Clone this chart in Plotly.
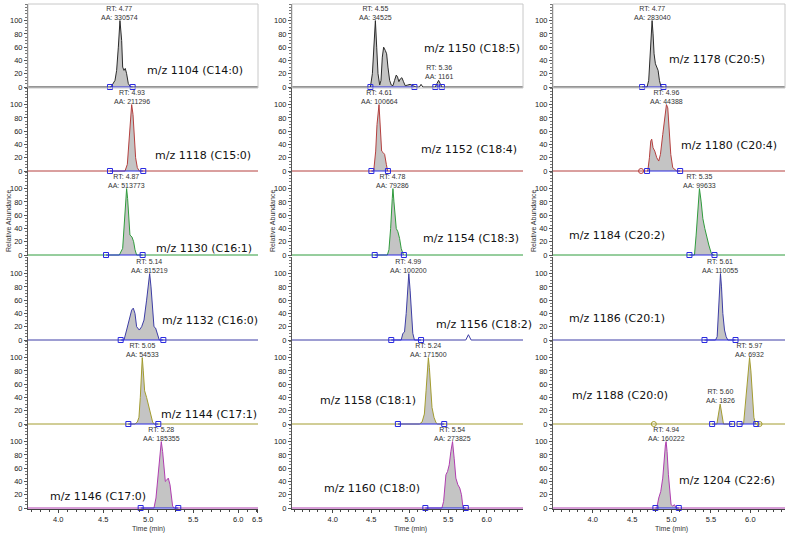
import plotly.graph_objects as go
from plotly.subplots import make_subplots

# ---------------- data (time in min, relative abundance in %) ----------------
T_1104 = [3.3, 4.585, 4.63, 4.648, 4.667, 4.685, 4.704, 4.715, 4.73, 4.744, 4.759, 4.778, 4.804, 6.6]
I_1104 = [0, 0, 10, 25, 60, 100, 70, 30, 25, 28, 20, 5, 0, 0]
W_1104 = [(4.574, 4.826)]

T_1118 = [3.3, 4.741, 4.767, 4.781, 4.796, 4.815, 4.83, 4.844, 4.859, 4.878, 4.9, 6.6]
I_1118 = [0, 0, 10, 40, 70, 100, 85, 50, 20, 5, 0, 0]
W_1118 = [(4.574, 4.944)]

T_1130 = [3.3, 4.678, 4.715, 4.737, 4.752, 4.759, 4.77, 4.781, 4.796, 4.819, 4.837, 4.852, 4.87, 6.6]
I_1130 = [0, 0, 10, 50, 90, 100, 85, 55, 30, 27, 20, 8, 0, 0]
W_1130 = [(4.53, 4.937)]

T_1132 = [3.3, 4.73, 4.759, 4.789, 4.815, 4.833, 4.852, 4.87, 4.9, 4.926, 4.952, 4.981, 5.004, 5.015, 5.03, 5.048, 5.063, 5.081, 5.1, 5.122, 6.6]
I_1132 = [0, 0, 15, 30, 45, 48, 40, 20, 15, 20, 30, 60, 95, 100, 80, 40, 20, 18, 10, 0, 0]
W_1132 = [(4.693, 5.167)]

T_1144 = [3.3, 4.852, 4.878, 4.896, 4.911, 4.926, 4.933, 4.944, 4.959, 4.981, 5.0, 5.026, 5.048, 5.063, 6.6]
I_1144 = [0, 0, 3, 10, 40, 90, 100, 80, 50, 40, 30, 15, 3, 0, 0]
W_1144 = [(4.778, 5.111)]

T_1146 = [3.3, 5.063, 5.085, 5.107, 5.13, 5.144, 5.159, 5.174, 5.189, 5.204, 5.222, 5.241, 5.256, 5.27, 5.285, 6.6]
I_1146 = [0, 0, 15, 50, 90, 100, 85, 55, 40, 42, 45, 35, 15, 3, 0, 0]
W_1146 = [(4.915, 5.333)]

T_1150 = [3.3, 4.488, 4.514, 4.531, 4.553, 4.57, 4.587, 4.609, 4.626, 4.643, 4.66, 4.682, 4.699, 4.716,
          4.738, 4.759, 4.781, 4.802, 4.824, 4.841, 4.858, 4.875, 4.897, 4.918, 4.94, 4.974, 5.004,
          5.039, 5.082, 5.125, 5.146, 5.168, 5.331, 5.352, 5.374, 5.395, 5.417, 6.6]
I_1150 = [0, 0, 20, 60, 100, 60, 20, 3, 10, 45, 60, 55, 50, 30,
          10, 3, 2, 10, 18, 15, 8, 12, 14, 8, 2, 3, 4,
          2, 0, 0, 4, 0, 0, 5, 10, 5, 0, 0]
W_1150 = [(4.488, 5.06), (5.331, 5.417)]

T_1152 = [3.3, 4.531, 4.557, 4.574, 4.6, 4.617, 4.634, 4.652, 4.673, 4.695, 4.712, 6.6]
I_1152 = [0, 0, 30, 70, 100, 70, 30, 28, 25, 10, 0, 0]
W_1152 = [(4.501, 4.716)]

T_1154 = [3.3, 4.708, 4.729, 4.751, 4.772, 4.781, 4.794, 4.807, 4.824, 4.845, 4.867, 4.888, 4.91, 4.931, 6.6]
I_1154 = [0, 0, 8, 40, 85, 100, 80, 55, 40, 35, 25, 10, 2, 0, 0]
W_1154 = [(4.544, 4.923)]

T_1156 = [3.3, 4.888, 4.91, 4.931, 4.953, 4.97, 4.987, 5.004, 5.022, 5.039, 5.06, 5.727, 5.761, 5.796, 6.6]
I_1156 = [0, 0, 10, 12, 40, 80, 100, 75, 35, 10, 0, 0, 8, 0, 0]
W_1156 = [(4.759, 5.146)]

T_1158 = [3.3, 5.125, 5.159, 5.189, 5.211, 5.228, 5.241, 5.254, 5.271, 5.288, 5.314, 5.34, 5.361, 6.6]
I_1158 = [0, 0, 3, 15, 50, 90, 100, 85, 50, 25, 10, 2, 0, 0]
W_1158 = [(4.845, 5.447)]

T_1160 = [3.3, 5.417, 5.439, 5.469, 5.49, 5.512, 5.533, 5.555, 5.576, 5.598, 5.624, 5.649, 5.671, 5.688, 5.705, 6.6]
I_1160 = [0, 0, 10, 50, 55, 65, 85, 100, 75, 45, 35, 30, 20, 3, 0, 0]
W_1160 = [(5.202, 5.727)]

T_1178 = [3.3, 4.689, 4.71, 4.727, 4.744, 4.753, 4.765, 4.778, 4.795, 4.812, 4.829, 4.846, 4.867, 6.6]
I_1178 = [0, 0, 10, 50, 90, 100, 80, 50, 35, 30, 25, 10, 0, 0]
W_1178 = [(4.626, 4.897)]

T_1180 = [3.3, 4.698, 4.719, 4.736, 4.748, 4.765, 4.787, 4.812, 4.837, 4.859, 4.888, 4.914, 4.935, 4.952, 4.969, 4.99, 5.015, 5.041, 5.066, 6.6]
I_1180 = [0, 0, 20, 45, 48, 35, 30, 20, 15, 25, 55, 80, 100, 95, 60, 25, 5, 2, 0, 0]
W_1180 = [(4.689, 5.109)]

T_1184 = [3.3, 5.291, 5.312, 5.333, 5.354, 5.376, 5.397, 5.422, 5.448, 5.473, 5.503, 5.524, 6.6]
I_1184 = [0, 0, 30, 75, 100, 80, 55, 40, 25, 15, 3, 0, 0]
W_1184 = [(5.227, 5.545)]

T_1186 = [3.3, 5.558, 5.579, 5.596, 5.609, 5.621, 5.634, 5.651, 5.672, 5.693, 5.714, 6.6]
I_1186 = [0, 0, 5, 40, 85, 100, 80, 40, 15, 5, 0, 0]
W_1186 = [(5.418, 5.812)]

T_1188 = [3.3, 5.575, 5.596, 5.617, 5.638, 5.659, 5.914, 5.939, 5.965, 5.99, 6.007, 6.024, 6.045, 6.066, 6.6]
I_1188 = [0, 0, 15, 30, 15, 0, 0, 30, 65, 100, 80, 40, 10, 0, 0]
W_1188 = [(5.515, 5.769), (5.863, 6.075)]

T_1204 = [3.3, 4.812, 4.837, 4.863, 4.888, 4.905, 4.922, 4.931, 4.943, 4.96, 4.977, 4.994, 5.015, 5.037, 5.058, 6.6]
I_1204 = [0, 0, 15, 25, 45, 75, 95, 100, 85, 50, 20, 5, 3, 5, 0, 0]
W_1204 = [(4.795, 5.092)]

# small unintegrated detections (time, min) shown as open circles
MINOR_1180 = [4.613]
MINOR_1188 = [4.775, 6.117]

# panel titles (row-major: row1 col1..3, row2 ...)
LABELS = ["m/z 1104 (C14:0)", "m/z 1150 (C18:5)", "m/z 1178 (C20:5)",
          "m/z 1118 (C15:0)", "m/z 1152 (C18:4)", "m/z 1180 (C20:4)",
          "m/z 1130 (C16:1)", "m/z 1154 (C18:3)", "m/z 1184 (C20:2)",
          "m/z 1132 (C16:0)", "m/z 1156 (C18:2)", "m/z 1186 (C20:1)",
          "m/z 1144 (C17:1)", "m/z 1158 (C18:1)", "m/z 1188 (C20:0)",
          "m/z 1146 (C17:0)", "m/z 1160 (C18:0)", "m/z 1204 (C22:6)"]

# retention time / area labels per integrated window
PEAK_RT = [["4.77"], ["4.55", "5.36"], ["4.77"],
           ["4.93"], ["4.61"], ["4.96"],
           ["4.87"], ["4.78"], ["5.35"],
           ["5.14"], ["4.99"], ["5.61"],
           ["5.05"], ["5.24"], ["5.60", "5.97"],
           ["5.28"], ["5.54"], ["4.94"]]
PEAK_AA = [["330574"], ["34525", "1161"], ["283040"],
           ["211296"], ["100664"], ["44388"],
           ["513773"], ["79286"], ["99633"],
           ["815219"], ["100200"], ["110055"],
           ["54533"], ["171500"], ["1826", "6932"],
           ["185355"], ["273825"], ["160222"]]

# axis ticks and titles
Y_TICKS = [0, 20, 40, 60, 80, 100]
X_TICKVALS_C1 = [4.0, 4.5, 5.0, 5.5, 6.0, 6.21]
X_TICKTEXT_C1 = ["4.0", "4.5", "5.0", "5.5", "6.0", "6.5"]
X_TICKVALS = [4.0, 4.5, 5.0, 5.5, 6.0]
X_TICKTEXT = ["4.0", "4.5", "5.0", "5.5", "6.0"]
Y_TITLE = "Relative Abundance"
X_TITLE = "Time (min)"

SERIES = [(T_1104, I_1104, W_1104), (T_1150, I_1150, W_1150), (T_1178, I_1178, W_1178),
          (T_1118, I_1118, W_1118), (T_1152, I_1152, W_1152), (T_1180, I_1180, W_1180),
          (T_1130, I_1130, W_1130), (T_1154, I_1154, W_1154), (T_1184, I_1184, W_1184),
          (T_1132, I_1132, W_1132), (T_1156, I_1156, W_1156), (T_1186, I_1186, W_1186),
          (T_1144, I_1144, W_1144), (T_1158, I_1158, W_1158), (T_1188, I_1188, W_1188),
          (T_1146, I_1146, W_1146), (T_1160, I_1160, W_1160), (T_1204, I_1204, W_1204)]
MINORS = {5: MINOR_1180, 14: MINOR_1188}

# ---------------- styling / layout ----------------
W, H = 790, 535
ROW_COLORS = ["#2b2b2b", "#b5403f", "#2f9c3c", "#3d3da6", "#a39c2e", "#b03db0"]
FILL = "rgba(190,190,190,0.9)"
INT_BLUE = "#2a2ae0"
COL_PX = [(28, 258), (292, 523), (553, 785)]
ROW_BOTTOM_PX = [88, 172, 256, 341, 425, 509]
ROW_H = 84
COL_RANGES = [[3.663, 6.219], [3.47, 6.47], [3.495, 6.44]]
LABEL_POS = [(5.52, 25), (5.81, 58), (5.58, 42),
             (5.61, 24), (5.77, 33), (5.73, 39),
             (5.62, 10), (5.80, 25), (4.31, 29),
             (5.69, 30), (5.96, 24), (4.31, 33),
             (5.67, 14), (4.46, 35), (4.34, 43),
             (4.44, 17), (4.51, 29), (5.71, 42)]
YTITLE_X_PX = [8, 272, 533]
XTITLE_X_PX = [148, 410, 671]

fig = make_subplots(rows=6, cols=3)
SMALL = dict(family="Liberation Sans, Arial, sans-serif", size=7, color="#333333")
TICKF = dict(family="Liberation Sans, Arial, sans-serif", size=7.5, color="#222222")

for k, (T, I, WINS) in enumerate(SERIES):
    r, c = k // 3 + 1, k % 3 + 1
    color = ROW_COLORS[r - 1]
    for (a, b) in WINS:
        xs = [a] + [t for t in T if a <= t <= b] + [b]
        ys = [0] + [v for t, v in zip(T, I) if a <= t <= b] + [0]
        fig.add_trace(go.Scatter(x=xs, y=ys, mode="lines", line=dict(width=0),
                                 fill="tozeroy", fillcolor=FILL, hoverinfo="skip",
                                 showlegend=False), row=r, col=c)
    fig.add_trace(go.Scatter(x=T, y=I, mode="lines", line=dict(color=color, width=1),
                             showlegend=False), row=r, col=c)
    if k in MINORS:
        fig.add_trace(go.Scatter(x=MINORS[k], y=[0] * len(MINORS[k]), mode="markers",
                                 marker=dict(symbol="circle-open", size=5, color=color,
                                             line=dict(width=1)),
                                 cliponaxis=False, showlegend=False), row=r, col=c)
    for (a, b) in WINS:
        fig.add_trace(go.Scatter(x=[a, b], y=[0, 0], mode="lines+markers",
                                 line=dict(color=INT_BLUE, width=1),
                                 marker=dict(symbol="square-open", size=5, color=INT_BLUE,
                                             line=dict(width=1)),
                                 cliponaxis=False, showlegend=False), row=r, col=c)
    idx = k + 1
    sfx = "" if idx == 1 else str(idx)
    x0, x1 = COL_PX[c - 1]
    yb = ROW_BOTTOM_PX[r - 1]
    xa = dict(domain=[x0 / W, x1 / W], range=COL_RANGES[c - 1], showgrid=False, zeroline=False,
              automargin=False)
    if r == 6:
        tv = X_TICKVALS_C1 if c == 1 else X_TICKVALS
        tt = X_TICKTEXT_C1 if c == 1 else X_TICKTEXT
        xa.update(showline=True, linecolor="#444444", linewidth=1, ticks="outside", ticklen=3,
                  tickcolor="#444444", tickvals=tv, ticktext=tt, tickfont=TICKF,
                  minor=dict(tickmode="linear", tick0=0, dtick=0.1, ticks="outside", ticklen=2,
                             tickcolor="#444444"))
    else:
        xa.update(showline=False, showticklabels=False, ticks="")
    ya = dict(domain=[1 - yb / H, 1 - (yb - ROW_H) / H], range=[-1.5, 125], showgrid=False,
              zeroline=False, showline=True, linecolor="#555555", linewidth=1, ticks="outside",
              ticklen=3, tickcolor="#555555", tickvals=Y_TICKS, tickfont=TICKF, automargin=False,
              minor=dict(tickmode="linear", tick0=0, dtick=5, ticks="outside", ticklen=2,
                         tickcolor="#777777"))
    fig.layout["xaxis" + sfx].update(xa)
    fig.layout["yaxis" + sfx].update(ya)

    xr, yr = "x" + sfx, "y" + sfx
    lx, ly = LABEL_POS[k]
    fig.add_annotation(x=lx, y=ly, xref=xr, yref=yr, text=LABELS[k], showarrow=False,
                       font=dict(family="DejaVu Sans, sans-serif", size=11, color="#111111"))
    for j, (a, b) in enumerate(WINS):
        pts = [(v, t) for t, v in zip(T, I) if a <= t <= b]
        vmax, tmax = max(pts)
        fig.add_annotation(x=tmax, y=vmax, xref=xr, yref=yr, yanchor="bottom", yshift=-2,
                           text="RT: " + PEAK_RT[k][j] + "<br>AA: " + PEAK_AA[k][j],
                           showarrow=False, font=SMALL)
    if r == 1:
        fig.add_shape(type="rect", xref=xr + " domain", yref=yr + " domain", x0=0, x1=1,
                      y0=0, y1=1, line=dict(color="#c8c8c8", width=1))

# axis titles
for c in range(3):
    fig.add_annotation(x=YTITLE_X_PX[c] / W, y=1 - 221 / H, xref="paper", yref="paper",
                       xanchor="center", yanchor="middle",
                       text=Y_TITLE, textangle=-90, showarrow=False, font=SMALL)
    fig.add_annotation(x=XTITLE_X_PX[c] / W, y=1 - 529 / H, xref="paper", yref="paper",
                       xanchor="center", yanchor="middle",
                       text=X_TITLE, showarrow=False, font=SMALL)

fig.update_layout(width=W, height=H, margin=dict(l=0, r=0, t=0, b=0),
                  paper_bgcolor="white", plot_bgcolor="white", showlegend=False)
fig.write_html("out.html", config={"displayModeBar": False},
               post_script="document.body.style.margin='0px';document.body.style.overflow='hidden';")
